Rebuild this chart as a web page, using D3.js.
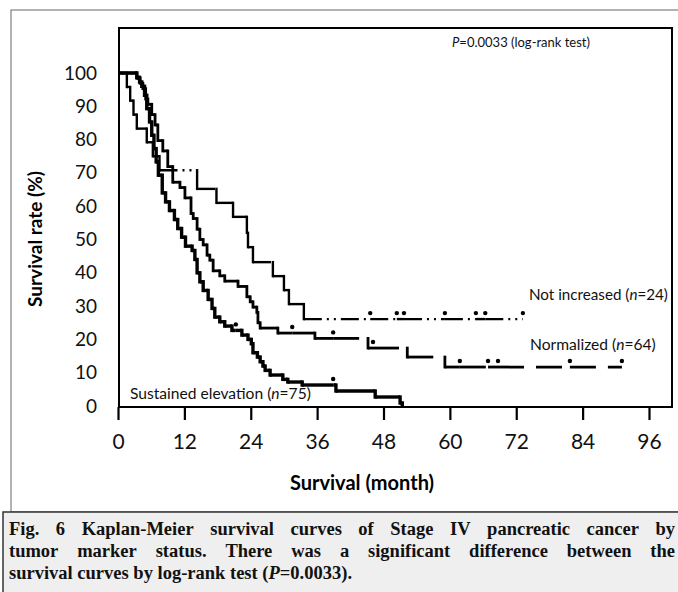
<!DOCTYPE html>
<html>
<head>
<meta charset="utf-8">
<script src="https://cdn.jsdelivr.net/npm/d3@7"></script>
<style>
  body { margin: 0; background: #fff; }
  svg { display: block; }
</style>
</head>
<body>
<script>
// Kaplan-Meier curves, values (months, survival %)
var xTicks = [0, 12, 24, 36, 48, 60, 72, 84, 96];
var yTicks = [0, 10, 20, 30, 40, 50, 60, 70, 80, 90, 100];

var notIncTimes = [0, 1.6, 2.2, 2.8, 3.4, 5.2, 6.3, 7.5, 14.3, 17.8, 20.8, 23.3, 23.5, 24.4, 28.0, 30.0, 30.9, 33.6];
var notIncSurv  = [100, 95.8, 91.7, 87.5, 83.3, 79.2, 75.0, 70.8, 65.2, 61.0, 56.8, 52.0, 47.7, 43.2, 39.0, 34.8, 30.6, 26.1];
var notIncEnd = 73.2;
var notIncCensor = [45.6, 50.4, 51.7, 59.1, 64.7, 66.4, 73.2];

var normTimes = [0, 3.4, 4.0, 4.5, 5.0, 5.4, 6.1, 6.7, 7.2, 8.1, 9.0, 9.9, 11.2, 12.1, 13.2, 13.6, 14.3, 14.8, 15.4, 16.1, 16.6, 17.2, 18.4, 19.3, 21.7, 23.3, 23.9, 24.4, 25.1, 25.3, 25.7, 28.9, 35.6, 45.2, 52.3, 59.1];
var normSurv  = [100, 98.4, 96.9, 95.3, 92.2, 90.6, 87.5, 84.4, 79.7, 76.6, 71.9, 67.2, 65.6, 62.5, 57.8, 56.3, 53.1, 50.0, 48.4, 45.3, 43.8, 40.6, 39.1, 37.5, 35.9, 32.8, 31.3, 29.7, 28.1, 25.0, 23.4, 21.9, 20.3, 17.4, 14.7, 11.7];
var normEnd = 91.1;
var normCensor = [31.5, 38.9, 46.1, 61.8, 66.9, 68.7, 81.7, 91.1];

var sustTimes = [0, 3.4, 3.9, 4.3, 4.8, 5.2, 5.7, 6.1, 6.5, 6.9, 7.3, 8.0, 8.6, 9.3, 10.2, 10.8, 11.5, 12.2, 13.4, 13.9, 14.3, 14.8, 15.4, 16.3, 17.0, 17.5, 18.4, 19.3, 20.6, 22.4, 23.5, 24.1, 24.4, 25.2, 25.7, 26.2, 26.6, 27.5, 29.8, 30.7, 33.3, 39.4, 46.5, 51.0, 51.4];
var sustSurv  = [100, 98.7, 97.3, 96.0, 93.3, 89.3, 85.3, 81.3, 77.3, 73.3, 69.3, 64.0, 61.3, 58.7, 56.0, 53.3, 50.7, 48.0, 46.7, 44.0, 40.0, 37.3, 34.7, 32.0, 29.3, 26.7, 25.3, 24.0, 22.7, 21.3, 20.0, 18.7, 16.0, 14.7, 13.3, 12.0, 10.7, 9.3, 8.0, 7.2, 6.3, 4.5, 2.7, 0.9, 0];
var sustEnd = 51.5;
var sustCensor = [21.3, 38.9];

var W = 678, H = 592;

var x = d3.scaleLinear().domain([0, 96]).range([118, 649]),
    y = d3.scaleLinear().domain([0, 100]).range([406, 73]);

var font = "Lato, 'Open Sans', sans-serif";

var svg = d3.select("body").append("svg")
    .attr("width", W)
    .attr("height", H);

svg.append("rect").attr("width", W).attr("height", H).attr("fill", "#fff");

// outer frame
svg.append("rect")
    .attr("x", 11).attr("y", 10)
    .attr("width", W).attr("height", 502)
    .attr("fill", "none").attr("stroke", "#666").attr("stroke-width", 1);

// caption box
svg.append("rect")
    .attr("x", 3).attr("y", 512)
    .attr("width", W).attr("height", 90)
    .attr("fill", "#efefef").attr("stroke", "#333").attr("stroke-width", 1.5);

// plot box
svg.append("rect")
    .attr("x", 119).attr("y", 28)
    .attr("width", 553).attr("height", 379)
    .attr("fill", "none").attr("stroke", "#000").attr("stroke-width", 2);

// x axis
svg.append("g")
    .attr("transform", "translate(0,407)")
    .call(d3.axisBottom(x).tickValues(xTicks).tickSize(13).tickPadding(14))
    .call(function(g) { g.select(".domain").remove(); })
    .call(function(g) {
      g.selectAll("line").attr("stroke", "#000").attr("stroke-width", 2.2);
      g.selectAll("text").attr("font-family", font).attr("font-size", 21).attr("fill", "#111");
    });

// y axis (labels only)
svg.append("g")
    .attr("transform", "translate(119,0)")
    .call(d3.axisLeft(y).tickValues(yTicks).tickSize(0).tickPadding(22))
    .call(function(g) { g.select(".domain").remove(); })
    .call(function(g) {
      g.selectAll("text").attr("font-family", font).attr("font-size", 19).attr("fill", "#111");
    });

// axis titles
svg.append("text")
    .attr("transform", "translate(42,239) rotate(-90)")
    .attr("text-anchor", "middle")
    .attr("font-family", font).attr("font-weight", "bold").attr("font-size", 19)
    .text("Survival rate (%)");

svg.append("text")
    .attr("x", 362).attr("y", 490)
    .attr("text-anchor", "middle")
    .attr("font-family", font).attr("font-weight", "bold").attr("font-size", 20)
    .text("Survival (month)");

// survival value at time t
function survAt(times, surv, t) {
  var i = d3.bisectRight(times, t) - 1;
  return surv[Math.max(0, i)];
}

// draw one curve; each horizontal piece restarts its dash pattern (split at censor times)
function drawCurve(times, surv, end, censors, width, dash) {
  var g = svg.append("g").attr("stroke", "#000").attr("fill", "none");
  for (var i = 0; i < times.length; i++) {
    var t0 = times[i], t1 = i + 1 < times.length ? times[i + 1] : end;
    var cuts = [t0].concat(censors.filter(function(c) { return c > t0 && c < t1; }), [t1]);
    for (var k = 0; k < cuts.length - 1; k++) {
      g.append("line")
          .attr("x1", x(cuts[k])).attr("x2", x(cuts[k + 1]))
          .attr("y1", y(surv[i])).attr("y2", y(surv[i]))
          .attr("stroke-width", width)
          .attr("stroke-dasharray", dash);
    }
    if (i + 1 < times.length) {
      g.append("line")
          .attr("x1", x(t1)).attr("x2", x(t1))
          .attr("y1", y(surv[i])).attr("y2", y(surv[i + 1]))
          .attr("stroke-width", width)
          .attr("stroke-linecap", "square");
    }
  }
  svg.append("g").selectAll("circle")
      .data(censors)
    .enter().append("circle")
      .attr("cx", function(d) { return x(d); })
      .attr("cy", function(d) { return y(survAt(times, surv, d)) - 6; })
      .attr("r", 2.2)
      .attr("fill", "#000");
}

drawCurve(notIncTimes, notIncSurv, notIncEnd, notIncCensor, 2.4, "18,5,2,5,2,5");
drawCurve(normTimes, normSurv, normEnd, normCensor, 2.8, "26,12");
drawCurve(sustTimes, sustSurv, sustEnd, sustCensor, 3.4, null);

// labels inside the plot
function label(xp, yp, pre, post, size) {
  var t = svg.append("text")
      .attr("x", xp).attr("y", yp)
      .attr("font-family", font).attr("font-size", size).attr("fill", "#111");
  t.append("tspan").text(pre);
  t.append("tspan").attr("font-style", "italic").text("n");
  t.append("tspan").text(post);
}
label(529, 300, "Not increased (", "=24)", 15.2);
label(530, 350, "Normalized (", "=64)", 15.6);
label(130, 399, "Sustained elevation (", "=75)", 15.6);

var pt = svg.append("text")
    .attr("x", 590).attr("y", 47)
    .attr("text-anchor", "end")
    .attr("font-family", font).attr("font-size", 13).attr("fill", "#111");
pt.append("tspan").attr("font-style", "italic").text("P");
pt.append("tspan").text("=0.0033 (log-rank test)");

// caption, first two lines justified
var capLines = [
  ["Fig.", "6", "Kaplan-Meier", "survival", "curves", "of", "Stage", "IV", "pancreatic", "cancer", "by"],
  ["tumor", "marker", "status.", "There", "was", "a", "significant", "difference", "between", "the"]
];
var capBase = [535, 557, 579];
var capLeft = 9, capRight = 675;
var serif = "'Liberation Serif', 'Times New Roman', serif";

capLines.forEach(function(words, li) {
  var g = svg.append("g")
      .attr("font-family", serif).attr("font-weight", "bold")
      .attr("font-size", 18.5).attr("fill", "#111");
  var nodes = words.map(function(w) { return g.append("text").attr("y", capBase[li]).text(w); });
  var widths = nodes.map(function(n) { return n.node().getComputedTextLength(); });
  var gap = (capRight - capLeft - d3.sum(widths)) / (words.length - 1);
  var cx = capLeft;
  nodes.forEach(function(n, i) {
    n.attr("x", cx);
    cx += widths[i] + gap;
  });
});

var last = svg.append("text")
    .attr("x", capLeft).attr("y", capBase[2])
    .attr("font-family", serif).attr("font-weight", "bold")
    .attr("font-size", 18.5).attr("fill", "#111");
last.append("tspan").text("survival curves by log-rank test (");
last.append("tspan").attr("font-style", "italic").text("P");
last.append("tspan").text("=0.0033).");
</script>
</body>
</html>
